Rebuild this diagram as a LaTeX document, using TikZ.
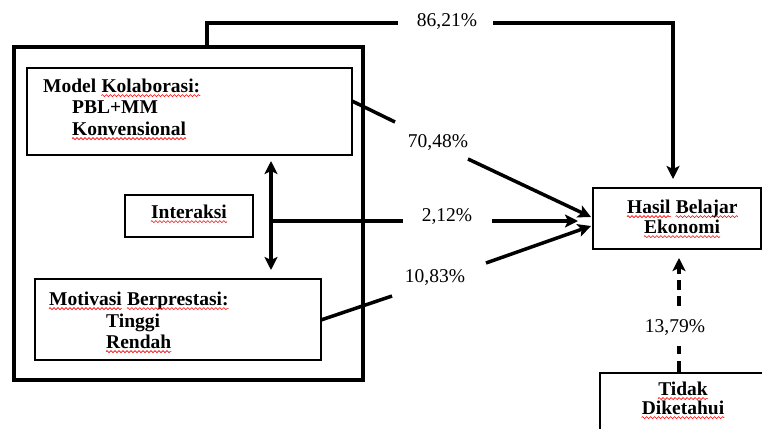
\documentclass[tikz,border=0pt]{standalone}
\usepackage{fontspec}
\setmainfont{Liberation Serif}
\usetikzlibrary{arrows.meta,decorations.pathmorphing}
\begin{document}
\begin{tikzpicture}[x=1pt,y=-1pt]
\tikzset{
  boxn/.style={draw, line width=1.1pt, inner sep=0pt, outer sep=0pt, anchor=north west},
  btext/.style={font=\fontsize{19.5}{22}\selectfont\bfseries, inner sep=0pt, anchor=base west},
  ctext/.style={font=\fontsize{19.5}{22}\selectfont\bfseries, inner sep=0pt, anchor=base},
  pct/.style={font=\fontsize{19.5}{22}\selectfont, inner sep=0pt, anchor=base},
  conn/.style={line width=3.5pt, line join=miter},
  arr/.style={conn, -{Stealth[length=13pt,width=13pt,inset=3pt]}},
  darr/.style={conn, {Stealth[length=13pt,width=13pt,inset=3pt]}-{Stealth[length=13pt,width=13pt,inset=3pt]}},
  sq/.style={red, line width=0.6pt, decorate, decoration={zigzag, segment length=4pt, amplitude=1pt}},
}
\clip (0,0) rectangle (762,428);
\useasboundingbox (0,0) rectangle (762,428);
% boxes
\node[boxn, line width=3.5pt, minimum width=349pt, minimum height=333pt] (outer) at (14,47) {};
\node[boxn, minimum width=325pt, minimum height=87pt] (model) at (27,68) {};
\node[boxn, minimum width=128pt, minimum height=42pt] (inter) at (125,195) {};
\node[boxn, minimum width=286pt, minimum height=81pt] (motiv) at (35,279) {};
\node[boxn, minimum width=168pt, minimum height=61pt] (hasil) at (593,188) {};
\node[boxn, minimum width=166pt, minimum height=70pt] (tidak) at (600,373) {};
% texts
\node[btext] (m1a) at (43,92) {Model};
\node[btext] (m1b) at ([xshift=4.9pt]m1a.base east) {Kolaborasi:};
\node[btext] (m2) at (72,113) {PBL+MM};
\node[btext] (m3) at (72,135) {Konvensional};
\node[ctext] (i1) at (189,218) {Interaksi};
\node[btext] (v1a) at (49,305) {Motivasi};
\node[btext] (v1b) at ([xshift=4.9pt]v1a.base east) {Berprestasi:};
\node[btext] (v2) at (106,327) {Tinggi};
\node[btext] (v3) at (106,348) {Rendah};
\node[btext] (h1a) at (627,213) {Hasil};
\node[btext] (h1b) at ([xshift=4.9pt]h1a.base east) {Belajar};
\node[ctext] (h2) at (682,233) {Ekonomi};
\node[ctext] (t1) at (683,395) {Tidak};
\node[ctext] (t2) at (683,414) {Diketahui};
\foreach \w in {m1b,m3,i1,v1a,v1b,v3,h1a,h1b,h2,t1,t2}
  \draw[sq] ([yshift=-3.6pt]\w.base west) -- ([yshift=-3.6pt]\w.base east);
% labels
\node[pct] (l86) at (447,27) {86,21\%};
\node[pct] (l70) at (438,147) {70,48\%};
\node[pct] (l2) at (447,221) {2,12\%};
\node[pct] (l10) at (435,282) {10,83\%};
\node[pct] (l13) at (675,332) {13,79\%};
% coordinates
\coordinate (topA) at (207,47);
\coordinate (topB) at (207,23);
\coordinate (topG1) at (398,23);
\coordinate (topG2) at (493,23);
\coordinate (topC) at (673,23);
\coordinate (topT) at (673,179);
\coordinate (dA) at (271,161);
\coordinate (dB) at (271,270);
\coordinate (hA) at (271,221);
\coordinate (hG1) at (403,221);
\coordinate (hG2) at (492,221);
\coordinate (hT) at (578,221);
\coordinate (mA) at (352,101);
\coordinate (mG1) at (395,122);
\coordinate (mG2) at (468,159);
\coordinate (mT) at (591,217);
\coordinate (vA) at (321,320);
\coordinate (vG1) at (392,296);
\coordinate (vG2) at (486,263);
\coordinate (vT) at (591,226);
\coordinate (tA) at (679,373);
\coordinate (tG1) at (679,346);
\coordinate (tG2) at (679,306);
\coordinate (tT) at (679,258);
% connectors
\draw[conn] (topA) -- (topB) -- (topG1);
\draw[arr] (topG2) -- (topC) -- (topT);
\draw[darr] (dA) -- (dB);
\draw[conn] (hA) -- (hG1);
\draw[arr] (hG2) -- (hT);
\draw[conn] (mA) -- (mG1);
\draw[arr] (mG2) -- (mT);
\draw[conn] (vA) -- (vG1);
\draw[arr] (vG2) -- (vT);
\draw[conn, dash pattern=on 12pt off 7pt] (tA) -- (tG1);
\draw[arr, dash pattern=on 10pt off 6pt] (tG2) -- (tT);
\end{tikzpicture}
\end{document}
